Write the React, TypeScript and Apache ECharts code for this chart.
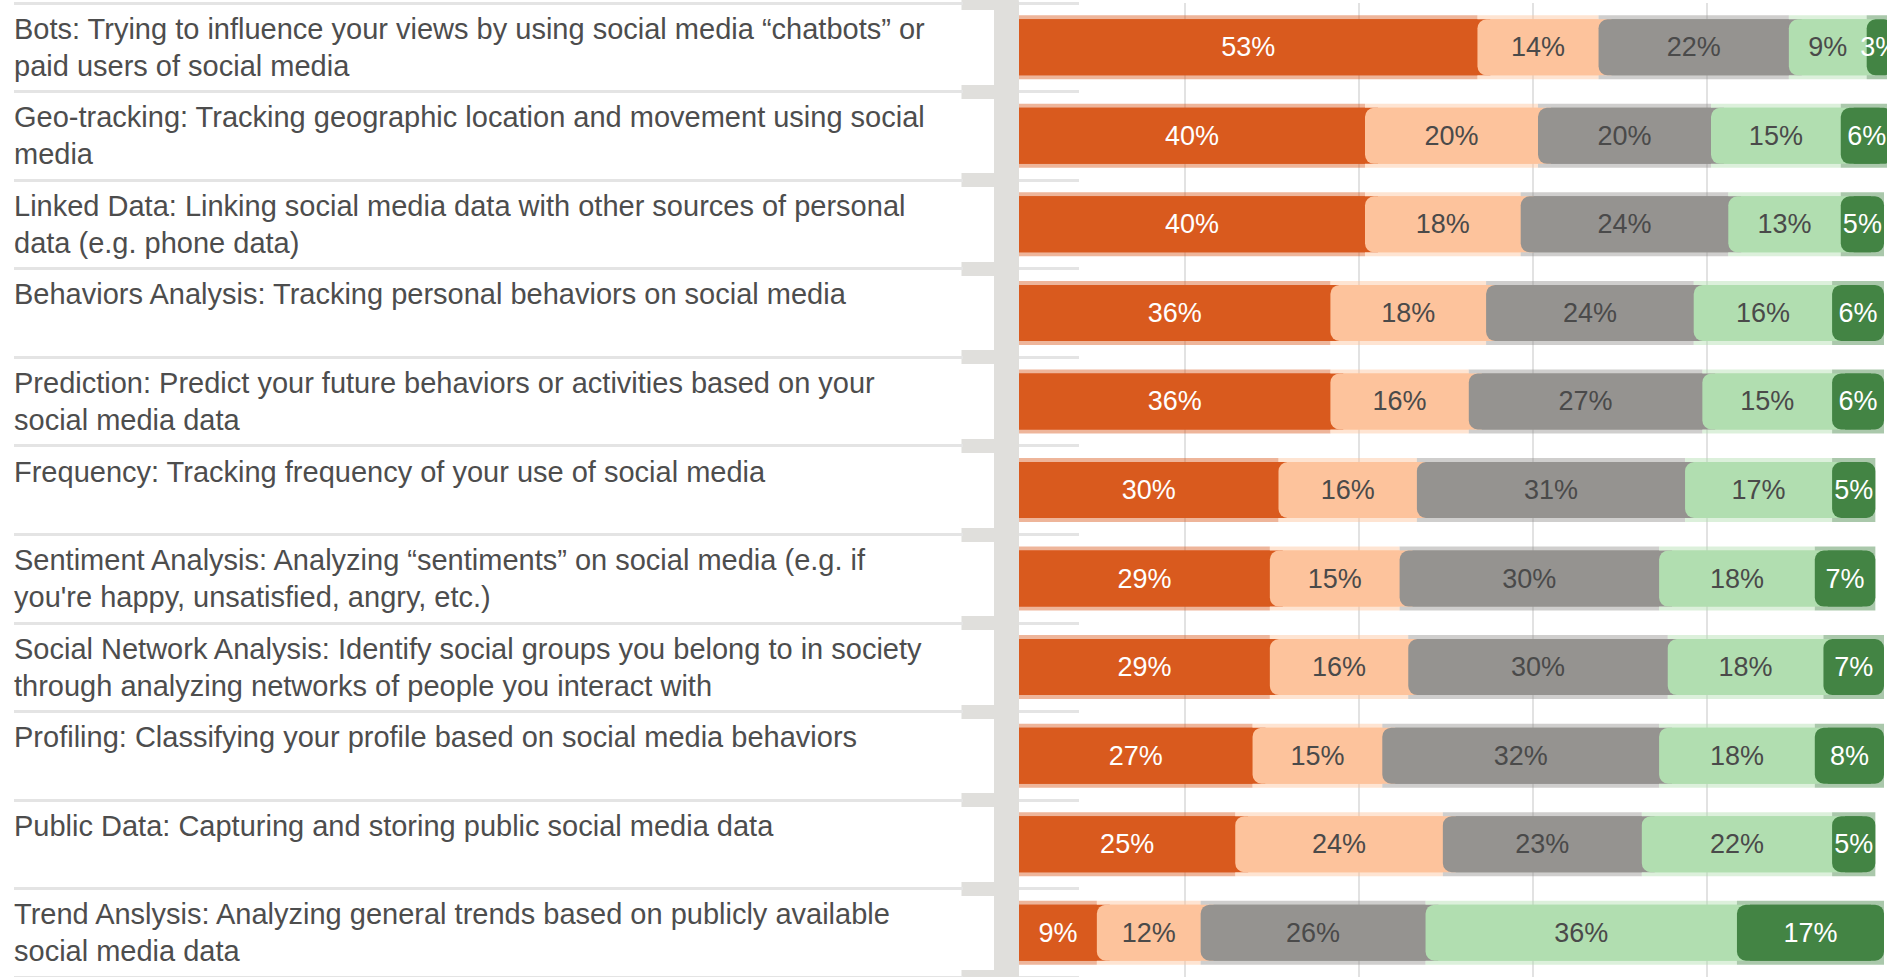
import React, { useEffect, useRef } from "react";
import * as echarts from "echarts";

const categories = [
  "Bots: Trying to influence your views by using social media \u201cchatbots\u201d or\npaid users of social media",
  "Geo-tracking: Tracking geographic location and movement using social\nmedia",
  "Linked Data: Linking social media data with other sources of personal\ndata (e.g. phone data)",
  "Behaviors Analysis: Tracking personal behaviors on social media",
  "Prediction: Predict your future behaviors or activities based on your\nsocial media data",
  "Frequency: Tracking frequency of your use of social media",
  "Sentiment Analysis: Analyzing \u201csentiments\u201d on social media (e.g. if\nyou're happy, unsatisfied, angry, etc.)",
  "Social Network Analysis: Identify social groups you belong to in society\nthrough analyzing networks of people you interact with",
  "Profiling: Classifying your profile based on social media behaviors",
  "Public Data: Capturing and storing public social media data",
  "Trend Anslysis: Analyzing general trends based on publicly available\nsocial media data",
];

const seriesNames = ["Level 1", "Level 2", "Level 3", "Level 4", "Level 5"];
const level1 = [53, 40, 40, 36, 36, 30, 29, 29, 27, 25, 9];
const level2 = [14, 20, 18, 18, 16, 16, 15, 16, 15, 24, 12];
const level3 = [22, 20, 24, 24, 27, 31, 30, 30, 32, 23, 26];
const level4 = [9, 15, 13, 16, 15, 17, 18, 18, 18, 22, 36];
const level5 = [3, 6, 5, 6, 6, 5, 7, 7, 8, 5, 17];
const xTicks = [0, 20, 40, 60, 80, 100];

const levels = [level1, level2, level3, level4, level5];
const COLORS = ["#D95A1E", "#FDC39C", "#959390", "#B1DEB0", "#438444"];
const LABEL_COLORS = ["#ffffff", "#4a4a4a", "#4a4a4a", "#4a4a4a", "#ffffff"];
const FONT = "'Liberation Sans', Arial, sans-serif";
const BAND = "#e0dfdc";
const SEP = "#e4e4e4";
const TEXT = "#4d4d4d";

function hexToRgba(hex: string, a: number) {
  const n = parseInt(hex.slice(1), 16);
  return `rgba(${(n >> 16) & 255},${(n >> 8) & 255},${n & 255},${a})`;
}

export default function App() {
  const ref = useRef<HTMLDivElement>(null);
  useEffect(() => {
    if (!ref.current) return;
    const chart = echarts.init(ref.current, null, { renderer: "svg", width: 1887, height: 977 });
    const OV = 1.5;
    const R = 9;
    const catAxis = (extra: any) => ({
      type: "category",
      data: categories,
      inverse: true,
      gridIndex: 0,
      ...extra,
    });
    const fringe = levels.map((vals, k) => ({
      name: seriesNames[k],
      type: "bar",
      yAxisIndex: 2,
      stack: "fringe",
      barWidth: 64,
      silent: true,
      clip: false,
      itemStyle: { color: hexToRgba(COLORS[k], 0.45) },
      label: { show: false },
      data: vals,
    }));
    const under = levels.map((vals, k) => ({
      name: seriesNames[k],
      type: "bar",
      yAxisIndex: 1,
      stack: "under",
      barWidth: 56,
      silent: true,
      clip: false,
      itemStyle: { color: COLORS[k] },
      label: { show: false },
      data: vals.map((v) => (k === 0 ? v + OV : k === 4 ? v - 2 * OV : v)),
    }));
    const main = levels.map((vals, k) => ({
      name: seriesNames[k],
      type: "bar",
      yAxisIndex: 0,
      stack: "main",
      barWidth: 56,
      clip: false,
      itemStyle: {
        color: COLORS[k],
        borderRadius: k === 0 ? 0 : k === 4 ? R : [R, 0, 0, R],
      },
      label: {
        show: true,
        position: "inside",
        formatter: "{c}%",
        color: LABEL_COLORS[k],
        fontSize: 27,
        fontFamily: FONT,
      },
      data: vals,
    }));
    const noAxisParts = {
      axisLine: { show: false },
      axisTick: { show: false },
      axisLabel: { show: false },
    };
    chart.setOption({
      animation: false,
      backgroundColor: "#ffffff",
      grid: [
        { left: 1019, right: 3, top: 3, height: 990, containLabel: false },
        { left: 1011, width: 870, top: 3, height: 990, containLabel: false },
      ],
      xAxis: [
        {
          type: "value",
          gridIndex: 0,
          min: xTicks[0],
          max: xTicks[xTicks.length - 1],
          interval: 20,
          ...noAxisParts,
          splitLine: { show: false },
        },
        {
          type: "value",
          gridIndex: 1,
          min: xTicks[0],
          max: xTicks[xTicks.length - 1],
          interval: 20,
          ...noAxisParts,
          splitLine: {
            show: true,
            showMinLine: false,
            showMaxLine: false,
            lineStyle: { color: "#e2e2e2", width: 2 },
          },
        },
      ],
      yAxis: [
        catAxis({
          position: "left",
          offset: 12.5,
          axisLine: { show: true, onZero: false, lineStyle: { color: BAND, width: 25 } },
          axisTick: { show: true, length: 45, lineStyle: { color: BAND, width: 14 } },
          axisLabel: { show: false },
          splitLine: { show: false },
        }),
        catAxis({ show: false, axisLine: { onZero: false } }),
        catAxis({ show: false, axisLine: { onZero: false } }),
        catAxis({
          position: "left",
          offset: 0,
          axisLine: { show: false, onZero: false },
          axisTick: { show: true, inside: true, length: 60, lineStyle: { color: SEP, width: 3 } },
          axisLabel: { show: false },
          splitLine: { show: false },
        }),
        catAxis({
          position: "left",
          offset: 56,
          axisLine: { show: false, onZero: false },
          axisTick: { show: true, length: 949, lineStyle: { color: SEP, width: 3 } },
          splitLine: { show: false },
          axisLabel: {
            show: true,
            interval: 0,
            margin: 949,
            align: "left",
            color: TEXT,
            fontSize: 29,
            lineHeight: 37,
            fontFamily: FONT,
            formatter: (v: string) => (v.indexOf("\n") >= 0 ? v : `{one|${v}}`),
            rich: {
              one: {
                color: TEXT,
                fontSize: 29,
                lineHeight: 37,
                fontFamily: FONT,
                padding: [0, 0, 37, 0],
              },
            },
          },
        }),
        catAxis({ gridIndex: 1, show: false, axisLine: { onZero: false } }),
      ],
      series: [...fringe, ...under, ...main],
    });
    return () => chart.dispose();
  }, []);
  return (
    <div
      ref={ref}
      style={{ position: "fixed", left: 0, top: 0, width: 1887, height: 977, background: "#fff" }}
    />
  );
}
